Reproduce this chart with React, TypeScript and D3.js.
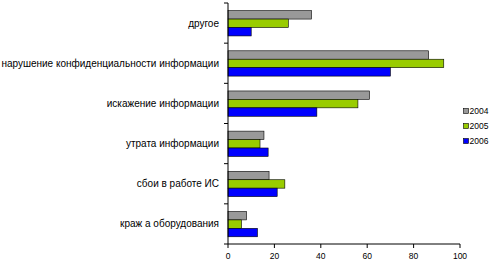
import React from "react";
import * as d3 from "d3";

const categories = [
  "другое",
  "нарушение конфиденциальности информации",
  "искажение информации",
  "утрата информации",
  "сбои в работе ИС",
  "краж а оборудования",
];
const series = ["2004", "2005", "2006"];
const values2004 = [36, 86.5, 61, 15.5, 17.7, 8];
const values2005 = [26, 93, 56, 13.8, 24.5, 5.8];
const values2006 = [10, 70, 38.3, 17.3, 21.2, 12.7];
const xTicks = [0, 20, 40, 60, 80, 100];
const colors = ["#999999", "#99cc00", "#0000ff"];

export default function App() {
  const W = 491, H = 266;
  const x0 = 228, x1 = 460, yTop = 3, yBot = 244;
  const x = d3.scaleLinear().domain([0, 100]).range([x0, x1]);
  const y = d3.scaleBand<string>().domain(categories).range([yTop, yBot]).padding(0);
  const bw = y.bandwidth();
  const inner = d3.scaleBand<string>().domain(series).range([bw * 0.19, bw * 0.82]).padding(0);
  const data = [values2004, values2005, values2006];
  const font = "Liberation Sans, Arial, sans-serif";
  const boundaries = d3.range(categories.length + 1).map((i) => yTop + i * bw);

  return (
    <div style={{ position: "absolute", left: 0, top: 0 }}>
      <svg width={W} height={H} style={{ display: "block", background: "#fff" }}>
        {categories.map((c, ci) => (
          <g key={c}>
            {series.map((s, si) => (
              <rect
                key={s}
                x={x(0)}
                y={(y(c) as number) + (inner(s) as number)}
                width={x(data[si][ci]) - x(0)}
                height={inner.bandwidth()}
                fill={colors[si]}
                stroke="#000"
                strokeWidth={0.6}
              />
            ))}
            <text
              x={219}
              y={(y(c) as number) + bw / 2}
              textAnchor="end"
              dominantBaseline="central"
              fontFamily={font}
              fontSize={10}
              fill="#000"
            >
              {c}
            </text>
          </g>
        ))}
        {/* y axis */}
        <line x1={x0} x2={x0} y1={yTop} y2={yBot} stroke="#000" strokeWidth={1} />
        {boundaries.map((b, i) => (
          <line key={i} x1={x0 - 4} x2={x0} y1={b} y2={b} stroke="#000" strokeWidth={1} />
        ))}
        {/* x axis */}
        <line x1={x0} x2={x1} y1={yBot} y2={yBot} stroke="#000" strokeWidth={1} />
        {xTicks.map((t) => (
          <g key={t}>
            <line x1={x(t)} x2={x(t)} y1={yBot} y2={yBot + 4} stroke="#000" strokeWidth={1} />
            <text
              x={x(t)}
              y={256}
              textAnchor="middle"
              dominantBaseline="central"
              fontFamily={font}
              fontSize={8.5}
              fill="#000"
            >
              {t}
            </text>
          </g>
        ))}
        {/* legend */}
        {series.map((s, si) => (
          <g key={s} transform={`translate(463.5, ${111 + si * 15})`}>
            <rect x={0} y={-2.5} width={5} height={5} fill={colors[si]} stroke="#000" strokeWidth={0.6} />
            <text x={6} y={0} dominantBaseline="central" fontFamily={font} fontSize={8.5} fill="#000">
              {s}
            </text>
          </g>
        ))}
      </svg>
    </div>
  );
}
